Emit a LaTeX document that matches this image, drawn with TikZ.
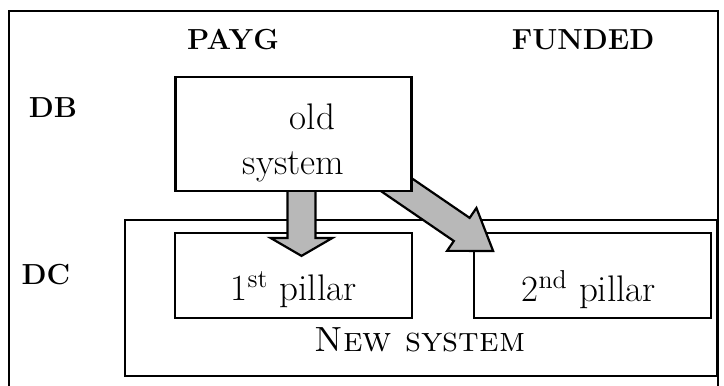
\documentclass[tikz,border=0pt]{standalone}
\usepackage{tikz}
\usetikzlibrary{positioning,calc}

\pgfdeclarelayer{front}
\pgfsetlayers{main,front}

% fat block arrow: start, tip, shaft half width, head length, head half width
\newcommand{\fatarrow}[5]{%
  \coordinate (fa-base) at ($(#2)!#4!(#1)$);
  \draw[arrowbody] ($(#1)!#3!-90:(#2)$) -- ($(fa-base)!#3!-90:(#2)$)
    -- ($(fa-base)!#5!-90:(#2)$) -- (#2) -- ($(fa-base)!#5!90:(#2)$)
    -- ($(fa-base)!#3!90:(#2)$) -- ($(#1)!#3!90:(#2)$) -- cycle;
}

\begin{document}
\begin{tikzpicture}[x=0.5pt, y=-0.5pt, node distance=0pt,
    box/.style={draw, line width=1.1pt, inner sep=0pt},
    body/.style={font=\fontsize{18.5}{22.5}\selectfont},
    hdr/.style={font=\fontsize{14.5}{17}\selectfont\bfseries},
    arrowbody/.style={draw, line width=1.1pt, fill=black!28, line join=miter}]
    \useasboundingbox (0,0) rectangle (724,386);
    % outer frame, bottom edge runs off the page
    \draw[line width=0.8pt] (9,392) |- (718,11) -- (718,392);

    \node[hdr] (payg) at (233,40) {PAYG};
    \node[hdr] (funded) at (583,40) {FUNDED};
    \node[hdr] (db) at (53,108) {DB};
    \node[hdr] (dc) at (46,275) {DC};

    \node[box, minimum width=296pt, minimum height=78pt] (newsys) at (421,298) {};
    \node[box, minimum width=118.5pt, minimum height=42.5pt] (p1) at (293.5,275.5) {};
    \node[box, minimum width=118.5pt, minimum height=42.5pt, right=30pt of p1] (p2) {};
    \node[body] (p1txt) at ([yshift=-7pt]p1.center) {1\textsuperscript{st} pillar};
    \node[body] (p2txt) at ([xshift=-2pt, yshift=-7pt]p2.center) {2\textsuperscript{nd} pillar};
    \node[body, font=\fontsize{17.5}{21}\selectfont] (newtxt) at (420,340) {\textsc{New system}};

    \begin{pgfonlayer}{front}
    \node[box, fill=white, minimum width=118pt, minimum height=57pt, above=20pt of p1] (old) {};
    \node[body, align=center] (oldtxt) at ([yshift=-4.5pt]old.center) {\hspace*{19pt}old\\system};
    \end{pgfonlayer}

    % old system -> 1st pillar
    \coordinate (a1s) at ([xshift=4pt, yshift=2pt]old.south);
    \coordinate (a1t) at ([xshift=4pt, yshift=-12pt]p1.north);
    \fatarrow{a1s}{a1t}{7pt}{9pt}{15.5pt}
    % old system -> 2nd pillar
    \coordinate (a2s) at ([xshift=-16pt, yshift=9pt]old.south east);
    \coordinate (a2t) at ([xshift=10pt, yshift=-9.5pt]p2.north west);
    \fatarrow{a2s}{a2t}{7pt}{19pt}{13pt}
\end{tikzpicture}
\end{document}
